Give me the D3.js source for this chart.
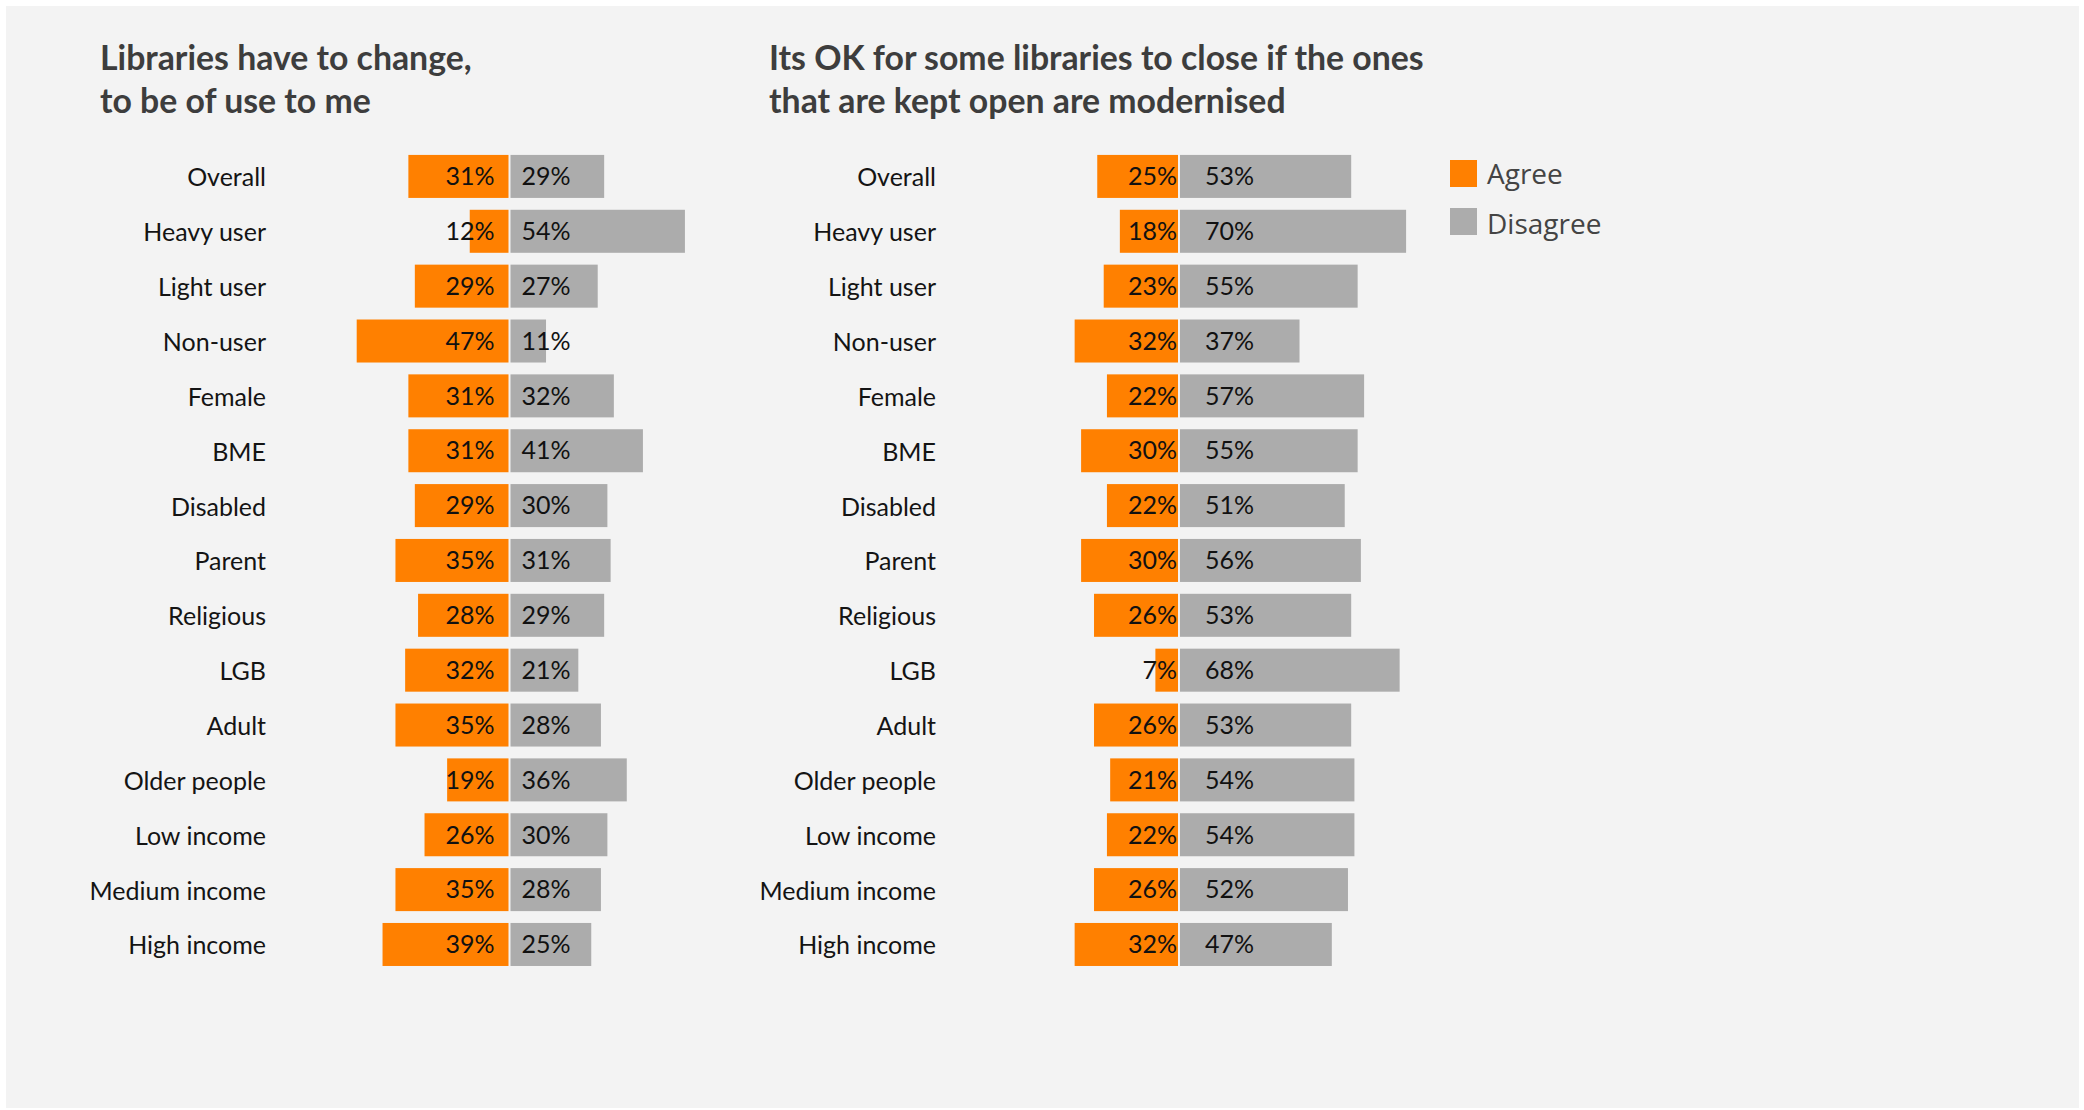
<!DOCTYPE html>
<html>
<head>
<meta charset="utf-8">
<script src="https://cdn.jsdelivr.net/npm/d3@7"></script>
<style>
  html, body { margin: 0; padding: 0; background: #ffffff; }
  svg { display: block; }
</style>
</head>
<body>
<svg id="chart" width="2084" height="1110"></svg>
<script>
// Survey groups, shared by both panels
const categories = ["Overall", "Heavy user", "Light user", "Non-user", "Female", "BME",
  "Disabled", "Parent", "Religious", "LGB", "Adult", "Older people", "Low income",
  "Medium income", "High income"];

// "Libraries have to change, to be of use to me"
const changeAgree    = [31, 12, 29, 47, 31, 31, 29, 35, 28, 32, 35, 19, 26, 35, 39];
const changeDisagree = [29, 54, 27, 11, 32, 41, 30, 31, 29, 21, 28, 36, 30, 28, 25];

// "Its OK for some libraries to close if the ones that are kept open are modernised"
const closeAgree     = [25, 18, 23, 32, 22, 30, 22, 30, 26, 7, 26, 21, 22, 26, 32];
const closeDisagree  = [53, 70, 55, 37, 57, 55, 51, 56, 53, 68, 53, 54, 54, 52, 47];

const panelTitles = [
  ["Libraries have to change,", "to be of use to me"],
  ["Its OK for some libraries to close if the ones", "that are kept open are modernised"]
];
const legendLabels = ["Agree", "Disagree"];

const ORANGE = "#ff8000";
const GREY = "#acacac";

const svg = d3.select("#chart");

// Card background
svg.append("rect")
  .attr("x", 6).attr("y", 6)
  .attr("width", 2073).attr("height", 1102)
  .attr("fill", "#f3f3f3");

// Shared row scale
const y = d3.scaleBand()
  .domain(categories)
  .range([149, 149 + categories.length * 54.86])
  .paddingInner(0.216)
  .paddingOuter(0.108);

// Percentage to pixel length
const len = d3.scaleLinear().domain([0, 100]).range([0, 323]);

const panels = [
  { title: panelTitles[0], agree: changeAgree, disagree: changeDisagree,
    titleX: 100, labelX: 266, center: 508.5, agreePad: 14, disPad: 11 },
  { title: panelTitles[1], agree: closeAgree, disagree: closeDisagree,
    titleX: 769, labelX: 936, center: 1178, agreePad: 1, disPad: 25 }
];

panels.forEach(p => {
  const g = svg.append("g");

  // Two-line heading
  g.append("text")
    .attr("x", p.titleX).attr("y", 70)
    .attr("font-family", "Lato, 'Open Sans', sans-serif")
    .attr("font-weight", 700)
    .attr("font-size", 33.8)
    .attr("fill", "#3d3d3d")
    .selectAll("tspan")
    .data(p.title)
    .join("tspan")
    .attr("x", p.titleX)
    .attr("dy", (d, i) => i === 0 ? 0 : 43)
    .text(d => d);

  const rows = categories.map((c, i) => ({ cat: c, agree: p.agree[i], disagree: p.disagree[i] }));

  // Group names
  g.selectAll("text.cat")
    .data(rows)
    .join("text")
    .attr("class", "cat")
    .attr("x", p.labelX)
    .attr("y", d => y(d.cat) + y.bandwidth() / 2)
    .attr("dy", "0.4em")
    .attr("text-anchor", "end")
    .attr("font-family", "Lato, 'Open Sans', sans-serif")
    .attr("font-size", 25)
    .attr("fill", "#141414")
    .text(d => d.cat);

  // Agree bars grow to the left of the centre line
  g.selectAll("rect.agree")
    .data(rows)
    .join("rect")
    .attr("class", "agree")
    .attr("x", d => p.center - len(d.agree))
    .attr("y", d => y(d.cat))
    .attr("width", d => len(d.agree))
    .attr("height", y.bandwidth())
    .attr("fill", ORANGE);

  // Disagree bars grow to the right
  g.selectAll("rect.disagree")
    .data(rows)
    .join("rect")
    .attr("class", "disagree")
    .attr("x", p.center + 2)
    .attr("y", d => y(d.cat))
    .attr("width", d => len(d.disagree))
    .attr("height", y.bandwidth())
    .attr("fill", GREY);

  // Value labels
  g.selectAll("text.agreeVal")
    .data(rows)
    .join("text")
    .attr("class", "agreeVal")
    .attr("x", p.center - p.agreePad)
    .attr("y", d => y(d.cat) + y.bandwidth() / 2)
    .attr("dy", "0.35em")
    .attr("text-anchor", "end")
    .attr("font-family", "Lato, 'Open Sans', sans-serif")
    .attr("font-size", 25)
    .attr("fill", "#111111")
    .text(d => d.agree + "%");

  g.selectAll("text.disVal")
    .data(rows)
    .join("text")
    .attr("class", "disVal")
    .attr("x", p.center + 2 + p.disPad)
    .attr("y", d => y(d.cat) + y.bandwidth() / 2)
    .attr("dy", "0.35em")
    .attr("font-family", "Lato, 'Open Sans', sans-serif")
    .attr("font-size", 25)
    .attr("fill", "#111111")
    .text(d => d.disagree + "%");
});

// Legend
const legend = svg.append("g");
const legendItems = legendLabels.map((l, i) => ({ label: l, color: [ORANGE, GREY][i], i }));
legend.selectAll("rect")
  .data(legendItems)
  .join("rect")
  .attr("x", 1450)
  .attr("y", d => 160 + d.i * 48)
  .attr("width", 27).attr("height", 27)
  .attr("fill", d => d.color);
legend.selectAll("text")
  .data(legendItems)
  .join("text")
  .attr("x", 1487)
  .attr("y", d => 184 + d.i * 50)
  .attr("font-family", "'Open Sans', sans-serif")
  .attr("font-size", 28)
  .attr("fill", "#444444")
  .text(d => d.label);
</script>
</body>
</html>
